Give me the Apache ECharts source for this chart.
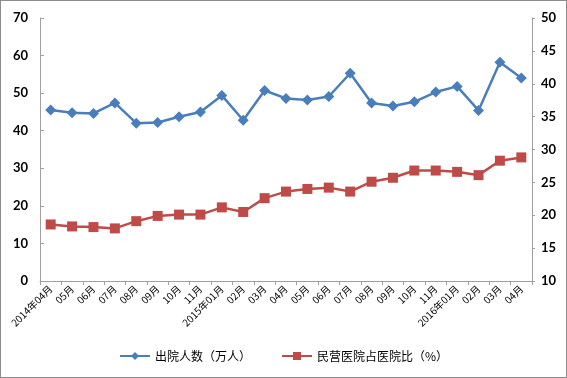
<!DOCTYPE html>
<html>
<head>
<meta charset="utf-8">
<script src="https://cdn.jsdelivr.net/npm/echarts@6/dist/echarts.min.js"></script>
<style>
html,body{margin:0;padding:0;background:#fff;}
#main{width:567px;height:378px;box-sizing:border-box;border:1px solid #8c8c8c;}
</style>
</head>
<body>
<div id="main"></div>
<script>
var months = ['2014年04月','05月','06月','07月','08月','09月','10月','11月','2015年01月','02月','03月','04月','05月','06月','07月','08月','09月','10月','11月','2016年01月','02月','03月','04月'];
var discharged = [45.5,44.8,44.6,47.4,42.0,42.2,43.7,45.0,49.4,42.8,50.7,48.6,48.2,49.1,55.3,47.4,46.6,47.7,50.3,51.8,45.4,58.2,54.0];
var privateShare = [18.6,18.3,18.2,18.0,19.1,19.9,20.1,20.1,21.2,20.5,22.6,23.6,24.0,24.2,23.6,25.1,25.7,26.8,26.8,26.6,26.1,28.3,28.8];

var myChart = echarts.init(document.getElementById('main'));
var axisFont = {color:'#000', fontSize:13, fontWeight:'bold', fontFamily:'Lato, Liberation Sans', margin:12};
option = {
    animation: false,
    grid: {left:39, right:34, top:17, bottom:96},
    legend: {
        bottom: 10,
        itemGap: 30,
        itemWidth: 30,
        itemHeight: 10,
        textStyle: {color:'#000', fontSize:12, fontFamily:'Noto Sans CJK SC'},
        data: ['出院人数（万人）','民营医院占医院比（%）']
    },
    xAxis: {
        type: 'category',
        data: months,
        boundaryGap: true,
        axisLine: {lineStyle:{color:'#a0a0a0'}},
        axisTick: {show:true, length:4, lineStyle:{color:'#a0a0a0'}},
        axisLabel: {rotate:45, interval:0, color:'#000', fontSize:10, fontFamily:'Noto Sans CJK SC', margin:6}
    },
    yAxis: [
        {
            type: 'value', min:0, max:70, interval:10,
            axisLine: {show:true, lineStyle:{color:'#a0a0a0'}},
            axisTick: {show:true, inside:true, length:4, lineStyle:{color:'#a0a0a0'}},
            splitLine: {show:false},
            axisLabel: axisFont
        },
        {
            type: 'value', min:10, max:50, interval:5,
            axisLine: {show:true, lineStyle:{color:'#a0a0a0'}},
            axisTick: {show:true, length:3, lineStyle:{color:'#a0a0a0'}},
            splitLine: {show:false},
            axisLabel: {color:'#000', fontSize:13, fontWeight:'bold', fontFamily:'Lato, Liberation Sans', margin:9}
        }
    ],
    series: [
        {
            name: '出院人数（万人）',
            type: 'line',
            yAxisIndex: 0,
            data: discharged,
            symbol: 'diamond',
            symbolSize: 11,
            itemStyle: {color:'#4a7ebb'},
            lineStyle: {width:2.5, color:'#4a7ebb'}
        },
        {
            name: '民营医院占医院比（%）',
            type: 'line',
            yAxisIndex: 1,
            data: privateShare,
            symbol: 'rect',
            symbolSize: 10,
            itemStyle: {color:'#be4b48'},
            lineStyle: {width:2.5, color:'#be4b48'}
        }
    ]
};
myChart.setOption(option);
</script>
</body>
</html>
